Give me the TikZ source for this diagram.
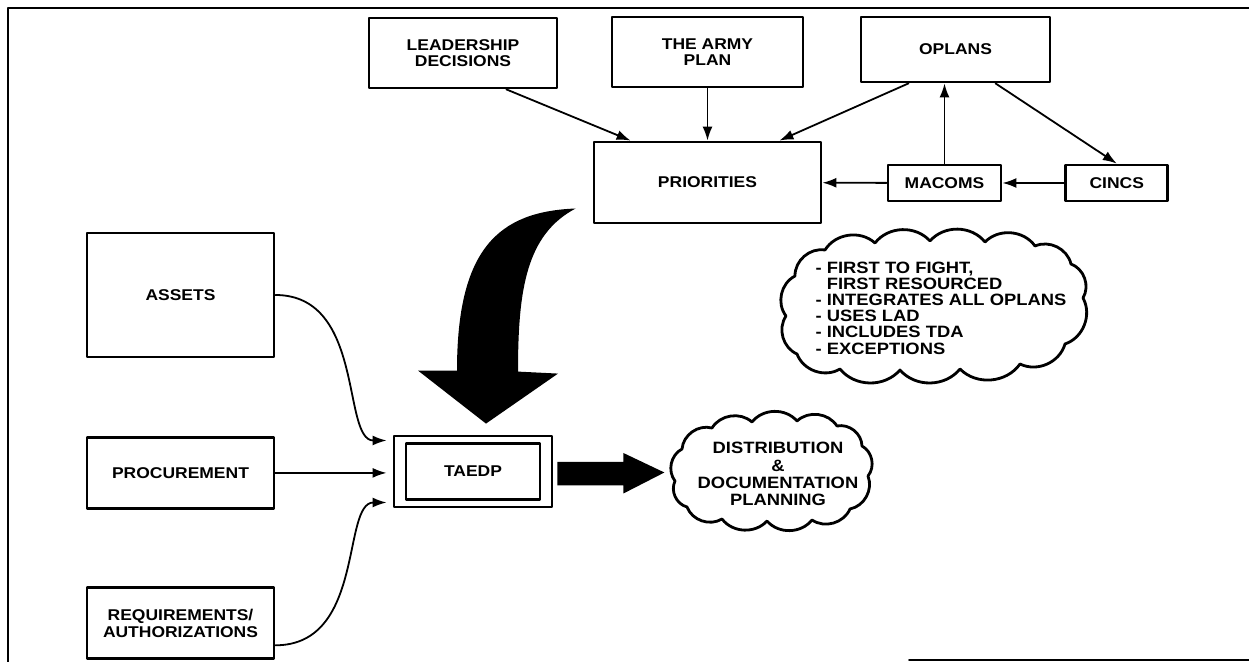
\documentclass[tikz,border=0pt]{standalone}
\usepackage{fontspec}
\setmainfont{Liberation Sans}
\newfontfamily\widesans[FakeStretch=1.12]{Liberation Sans}
\usetikzlibrary{arrows.meta,positioning,calc}
\tikzset{
    every picture/.style={line cap=round,line join=round},
    blockbox/.style={draw,line width=1.4pt,inner sep=2pt,align=center,
      font=\widesans\fontsize{7.8}{8.3}\selectfont\bfseries},
    cloudtext/.style={inner sep=0pt,font=\widesans\fontsize{8.2}{8.1}\selectfont\bfseries},
    cloudline/.style={line width=1.4pt},
    flowarrow/.style={-{Latex[length=7pt,width=5pt]},line width=0.9pt},
    inarrow/.style={flowarrow,shorten >=0.5pt}
}

\begin{document}
\begin{tikzpicture}[x=0.5pt,y=-0.5pt]
  \useasboundingbox (0,0) rectangle (1249,662);
  \draw[line width=1pt] (8,662) -- (8,8) -- (1249,8);
  \draw[line width=1pt] (909,660) -- (1249,660);

  \node[blockbox,minimum width=94pt,minimum height=35pt] (lead) at (463,53) {LEADERSHIP\\DECISIONS};
  \node[blockbox,minimum width=95.5pt,minimum height=35pt] (army) at (707.5,52) {THE ARMY\\PLAN};
  \node[blockbox,minimum width=94.5pt,minimum height=32.5pt] (oplans) at (955.5,49.5) {OPLANS};
  \node[blockbox,minimum width=113.5pt,minimum height=40.5pt] (prio) at (707.5,182.5) {PRIORITIES};
  \node[blockbox,minimum width=56.5pt,minimum height=18pt] (macoms) at (944.5,183) {MACOMS};
  \node[blockbox,minimum width=51pt,minimum height=18pt,right=31pt of macoms] (cincs) {CINCS};

  \node[blockbox,minimum width=93.5pt,minimum height=62pt] (assets) at (180.5,295) {ASSETS};
  \node[blockbox,minimum width=93.5pt,minimum height=35.5pt,below=38.8pt of assets] (procure) {PROCUREMENT};
  \node[blockbox,minimum width=93.5pt,minimum height=35.5pt,below=38.3pt of procure] (reqs) {REQUIREMENTS/\\AUTHORIZATIONS};

  \node[blockbox,minimum width=79pt,minimum height=35.5pt] (taedp) at (473,471.5) {};
  \node[blockbox,minimum width=67pt,minimum height=28pt] (taedpin) at (taedp.center) {TAEDP};

  \node[cloudtext,align=left] (notes) at (941,308) {- FIRST TO FIGHT,\\\phantom{- }FIRST RESOURCED\\- INTEGRATES ALL OPLANS\\- USES LAD\\- INCLUDES TDA\\- EXCEPTIONS};
  \node[cloudtext,align=center,font=\widesans\fontsize{8.2}{8.6}\selectfont\bfseries] (plan) at (778,474) {DISTRIBUTION\\\&\\DOCUMENTATION\\PLANNING};

  % puffy outlines round the two text blocks
  \coordinate (notesc) at ($(notes)+(-6,-2)$);
  \draw[cloudline] ($(notesc)+(148,-8)$)
    \foreach \dx/\dy in {136/-42,100/-60,50/-64,-5/-65,-60/-63,-110/-56,-140/-30,
                         -149/10,-138/48,-95/63,-35/64,25/63,85/58,130/38,148/-8}
      { to[bend right=50] ($(notesc)+(\dx,\dy)$) };
  \coordinate (planc) at ($(plan)+(-6,-3)$);
  \draw[cloudline] ($(planc)+(96,5)$)
    \foreach \dx/\dy in {90/-25,65/-45,25/-50,-20/-49,-60/-43,-90/-22,-97/10,
                         -85/36,-50/48,-5/50,40/49,78/38,96/5}
      { to[bend right=50] ($(planc)+(\dx,\dy)$) };

  \draw[flowarrow] (lead.-40) -- ($(prio.north west)+(38,0)$);
  \draw[flowarrow] (army) -- (prio);
  \draw[flowarrow] ($(oplans.south)+(-47,0)$) -- ($(prio.north east)+(-43,0)$);
  \draw[flowarrow] (macoms) -- (macoms |- oplans.south);
  \draw[flowarrow] ($(oplans.south)+(40,0)$) -- (cincs.north);
  \draw[flowarrow] (macoms) -- (prio);
  \draw[flowarrow] (cincs) -- (macoms);

  \draw[inarrow] (assets.east) .. controls ($(assets.east)+(90,0)$) and ($(taedp.west)+(-51,-31)$) .. ($(taedp.west)+(-5,-31)$);
  \draw[inarrow] (procure.east) -- ($(procure.east -| taedp.west)+(-5,0)$);
  \draw[inarrow] ($(reqs.east)+(0,22)$) .. controls ($(reqs.east)+(90,22)$) and ($(taedp.west)+(-51,31)$) .. ($(taedp.west)+(-5,31)$);

  \coordinate (bigfrom) at ($(prio.west)+(-17,26)$);
  \coordinate (bigto) at ($(taedp.north)+(13,-11)$);
  \fill (bigfrom) .. controls ($(bigfrom)+(-77,3)$) and ($(bigto)+(-29,-175)$) .. ($(bigto)+(-29,-53)$)
    -- ($(bigto)+(-68,-53)$) -- (bigto) -- ($(bigto)+(72,-50)$) -- ($(bigto)+(32,-52)$)
    .. controls ($(bigto)+(32,-135)$) and ($(bigfrom)+(-49,26)$) .. (bigfrom) -- cycle;

  \fill ($(taedp.east)+(4,-9.5)$) -- ++(66,0) -- ++(0,-9) -- ++(41,19.5) -- ++(-41,21)
    -- ++(0,-8) -- ++(-66,0) -- cycle;
\end{tikzpicture}
\end{document}
